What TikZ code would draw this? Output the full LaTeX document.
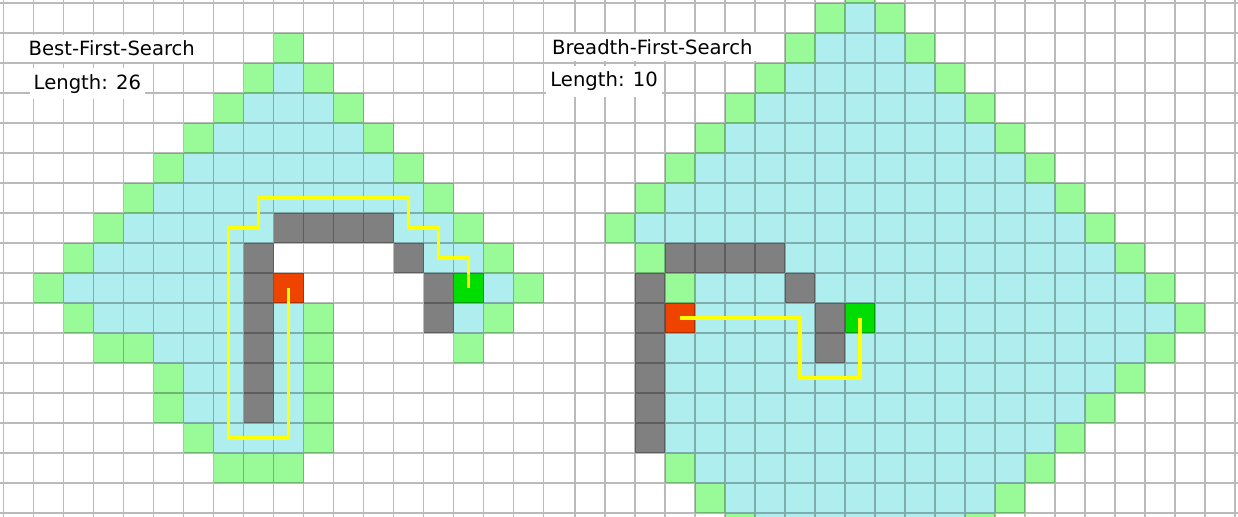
\documentclass[tikz,border=0pt]{standalone}
\usepackage{fontspec}
\setmainfont{DejaVu Sans}
\definecolor{openset}{RGB}{152,251,152}
\definecolor{closedset}{RGB}{175,238,238}
\definecolor{wall}{RGB}{128,128,128}
\definecolor{startcell}{RGB}{238,68,0}
\definecolor{goalcell}{RGB}{0,221,0}
\definecolor{pathline}{RGB}{255,255,0}
\begin{document}
\begin{tikzpicture}[x=0.5pt,y=-0.5pt,
	gridline/.style={line width=0.85pt,black,opacity=0.27},
	route/.style={pathline,line width=1.8pt},
	caption/.style={anchor=base west,fill=white,inner xsep=2pt,inner ysep=3pt,font=\fontsize{9.8}{12}\selectfont}]
	\useasboundingbox (0,0) rectangle (1238,517);
	\fill[white] (0,0) rectangle (1238,517);
	% best-first search
	\begin{scope}
		\clip (0,0) rectangle (574,517);
		\begin{scope}[shift={(1.75pt,-1.5pt)},x=15pt,y=-15pt]
			\foreach \r/\a/\b in {2/9/9,3/8/10,4/7/11,5/6/12,6/5/13,7/4/8,7/13/14,8/3/7,8/14/15,9/2/7,9/16/16,10/3/7,10/9/9,10/15/15,11/5/7,11/9/9,12/6/7,12/9/9,13/6/7,13/9/9,14/7/9}
				\fill[closedset] (\a,\r) rectangle (\b+1,\r+1);
			\foreach \c/\r in {9/1,8/2,10/2,7/3,11/3,6/4,12/4,5/5,13/5,4/6,14/6,3/7,15/7,2/8,16/8,1/9,17/9,2/10,10/10,16/10,3/11,4/11,10/11,15/11,5/12,10/12,5/13,10/13,6/14,10/14,7/15,8/15,9/15}
				\fill[openset] (\c,\r) rectangle ++(1,1);
			\foreach \c/\r in {9/7,10/7,11/7,12/7,8/8,8/9,8/10,8/11,8/12,8/13,13/8,14/9,14/10}
				\fill[wall] (\c,\r) rectangle ++(1,1);
			\fill[startcell] (9,9) rectangle ++(1,1);
			\fill[goalcell] (15,9) rectangle ++(1,1);
			\draw[gridline] foreach \k in {-1,...,18} {(\k,-1) -- (\k,18)} foreach \k in {-1,...,18} {(-1,\k) -- (20,\k)};
			\draw[route] (9.5,9.5) -- (9.5,14.5) -- (7.5,14.5) -- (7.5,7.5) -- (8.5,7.5) -- (8.5,6.5) -- (13.5,6.5) -- (13.5,7.5) -- (14.5,7.5) -- (14.5,8.5) -- (15.5,8.5) -- (15.5,9.5);
		\end{scope}
	\end{scope}
	% breadth-first search
	\begin{scope}
		\clip (574,0) rectangle (1238,517);
		\begin{scope}[shift={(287.5pt,-1.5pt)},x=15pt,y=-15pt]
			\foreach \r/\a/\b in {0/9/9,1/8/10,2/7/11,3/6/12,4/5/13,5/4/14,6/3/15,7/2/16,8/7/17,9/4/6,9/8/18,10/4/7,10/10/19,11/3/7,11/9/18,12/3/17,13/3/16,14/3/15,15/4/14,16/5/13,17/6/12}
				\fill[closedset] (\a,\r) rectangle (\b+1,\r+1);
			\foreach \c/\r in {9/-1,8/0,10/0,7/1,11/1,6/2,12/2,5/3,13/3,4/4,14/4,3/5,15/5,2/6,16/6,1/7,17/7,2/8,18/8,3/9,19/9,20/10,19/11,18/12,17/13,16/14,3/15,15/15,4/16,14/16,5/17,13/17}
				\fill[openset] (\c,\r) rectangle ++(1,1);
			\foreach \c/\r in {3/8,4/8,5/8,6/8,2/9,2/10,2/11,2/12,2/13,2/14,7/9,8/10,8/11}
				\fill[wall] (\c,\r) rectangle ++(1,1);
			\fill[startcell] (3,10) rectangle ++(1,1);
			\fill[goalcell] (9,10) rectangle ++(1,1);
			\draw[gridline] foreach \k in {0,...,22} {(\k,-1) -- (\k,18)} foreach \k in {-1,...,18} {(-1,\k) -- (23,\k)};
			\draw[route] (3.5,10.5) -- (7.5,10.5) -- (7.5,12.5) -- (9.5,12.5) -- (9.5,10.5);
		\end{scope}
	\end{scope}
	\node[caption] (besttitle) at (24.3,56) {Best-First-Search};
	\node[caption] (bestlength) at (29.3,89.3) {Length: 26};
	\node[caption] (breadthtitle) at (547.7,55) {Breadth-First-Search};
	\node[caption] (breadthlength) at (546,86.7) {Length: 10};
\end{tikzpicture}
\end{document}
